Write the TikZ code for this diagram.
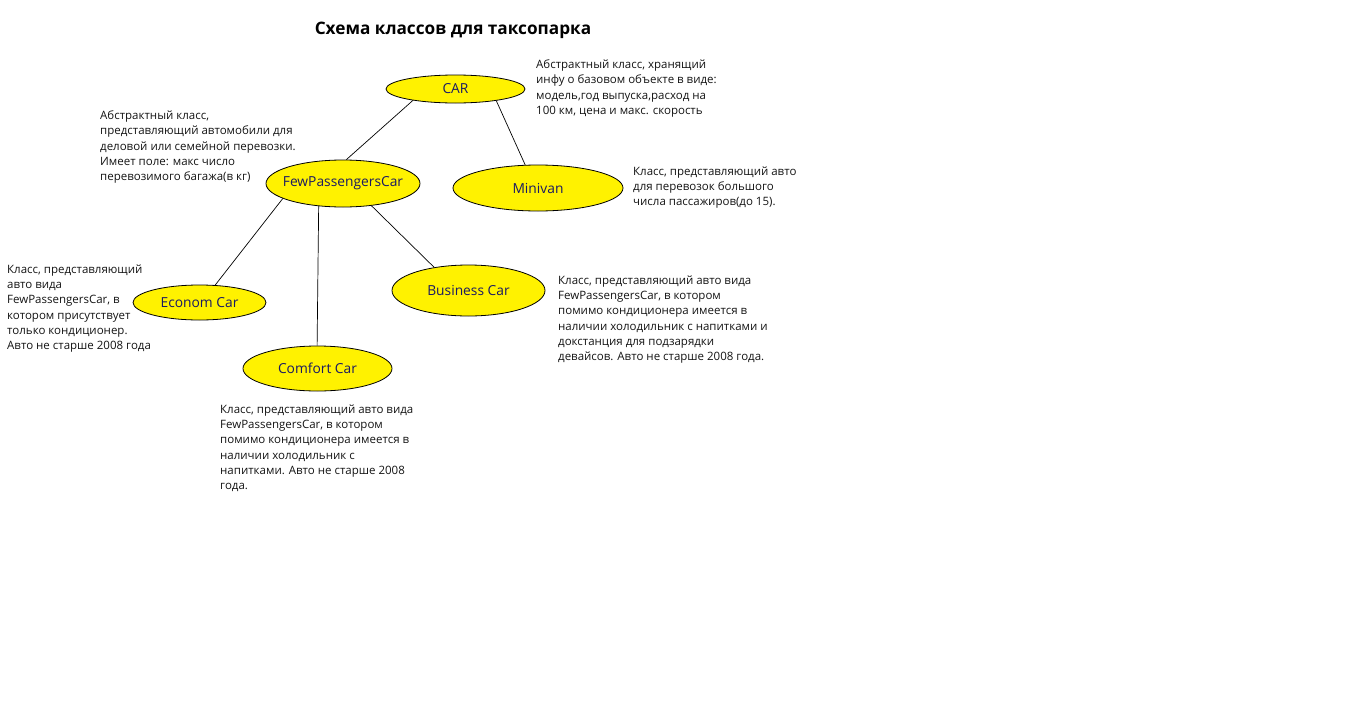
\documentclass[tikz,border=0pt]{standalone}
\usepackage{fontspec}
\setmainfont{Open Sans}
\usetikzlibrary{shapes.geometric}
\definecolor{ellfill}{RGB}{255,242,0}
\definecolor{elltext}{RGB}{25,25,100}
\definecolor{bodytext}{RGB}{20,20,20}
\newcommand{\lbl}[1]{\makebox[0pt]{#1}}
\tikzset{
  cls/.style={ellipse, draw=black, line width=0.8pt, fill=ellfill, text=elltext, inner sep=0pt, font=\fontsize{13.8}{16}\selectfont},
  desc/.style={anchor=north west, inner sep=0pt, align=left, text=bodytext, font=\fontsize{11.5}{15.3}\selectfont},
  link/.style={draw=black, line width=0.7pt}
}
\begin{document}
\begin{tikzpicture}[x=1pt,y=-1pt]
\useasboundingbox[fill=white] (0,0) rectangle (1366,726);
\node[font=\bfseries\fontsize{17.2}{20}\selectfont, text=black] (title) at (453,30) {Схема классов для таксопарка};

\node[cls, minimum width=139pt, minimum height=28pt] (car) at (455.5,89) {\lbl{CAR}};
\node[cls, minimum width=154pt, minimum height=47pt] (fpc) at (343,183.5) {\lbl{FewPassengersCar}};
\node[cls, minimum width=170pt, minimum height=46pt] (mini) at (538,188) {\lbl{Minivan}};
\node[cls, minimum width=133pt, minimum height=35pt] (econ) at (199.5,302.5) {\lbl{Econom Car}};
\node[cls, minimum width=153pt, minimum height=51pt] (bus) at (468.5,290.5) {\lbl{Business Car}};
\node[cls, minimum width=149pt, minimum height=45pt] (comf) at (317.5,368.5) {\lbl{Comfort Car}};

\draw[link] (car.195.6) -- (fpc.82.4);
\draw[link] (car.-16.9) -- (mini.119.5);
\draw[link] (fpc.194) -- (econ.48.5);
\draw[link] (fpc.223.2) -- (comf.91);
\draw[link] (fpc.-38.5) -- (bus.146.5);

\node[desc] (dcar) at (536,59.5) {Абстрактный класс, хранящий\\инфу о базовом объекте в виде:\\модель,год выпуска,расход на\\100 км, цена и макс. скорость};
\node[desc] (dfpc) at (100,110.5) {Абстрактный класс,\\представляющий автомобили для\\деловой или семейной перевозки.\\Имеет поле: макс число\\перевозимого багажа(в кг)};
\node[desc] (dmini) at (633,166.5) {Класс, представляющий авто\\для перевозок большого\\числа пассажиров(до 15).};
\node[desc] (decon) at (7,264.5) {Класс, представляющий\\авто вида\\FewPassengersCar, в\\котором присутствует\\только кондиционер.\\Авто не старше 2008 года};
\node[desc] (dbus) at (558,275.5) {Класс, представляющий авто вида\\FewPassengersCar, в котором\\помимо кондиционера имеется в\\наличии холодильник с напитками и\\докстанция для подзарядки\\девайсов. Авто не старше 2008 года.};
\node[desc] (dcomf) at (220,404.5) {Класс, представляющий авто вида\\FewPassengersCar, в котором\\помимо кондиционера имеется в\\наличии холодильник с\\напитками. Авто не старше 2008\\года.};
\end{tikzpicture}
\end{document}
